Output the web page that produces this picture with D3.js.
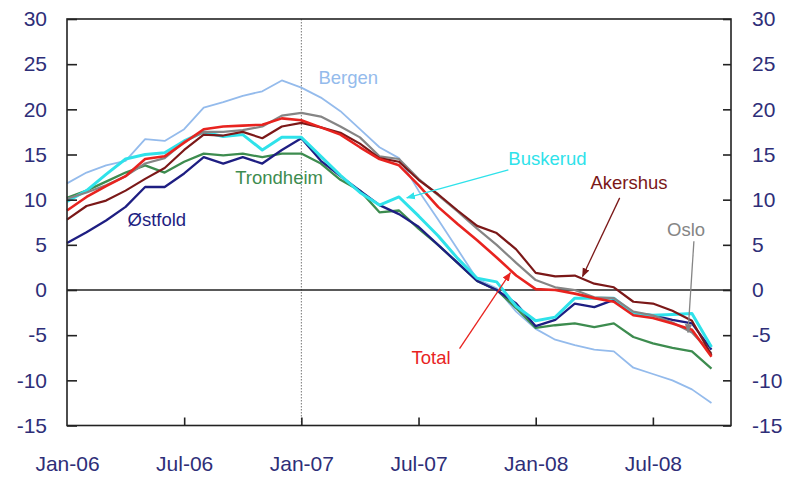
<!DOCTYPE html>
<html lang="en">
<head>
  <meta charset="UTF-8">
  <title>House prices by region</title>
  <script src="https://cdn.jsdelivr.net/npm/d3@7"></script>
  <style>
    body { margin: 0; background: #fff; }
    svg { font-family: "Liberation Sans", Arial, sans-serif; }
  </style>
</head>
<body>
<div id="chart"></div>
<script>
// month index 0 = Jan-06, one value per month up to Oct-08
const months = d3.range(34);
const tickMonths = [0, 6, 12, 18, 24, 30];
const tickLabels = ["Jan-06", "Jul-06", "Jan-07", "Jul-07", "Jan-08", "Jul-08"];
const yTicks = [-15, -10, -5, 0, 5, 10, 15, 20, 25, 30];

const bergen = [11.8, 13.0, 13.8, 14.3, 16.7, 16.5, 17.8, 20.2, 20.8, 21.5, 22.0, 23.2,
  22.4, 21.3, 19.8, 17.8, 15.8, 14.6, 11.0, 7.8, 4.5, 1.2, 0.2, -2.4,
  -4.3, -5.5, -6.1, -6.6, -6.8, -8.6, -9.3, -10.0, -11.0, -12.5];
const ostfold = [5.2, 6.4, 7.7, 9.2, 11.4, 11.4, 12.9, 14.7, 14.0, 14.7, 14.0, 15.5,
  16.8, 14.3, 12.6, 11.0, 9.4, 8.4, 7.0, 5.0, 3.0, 1.0, 0.0, -1.5,
  -4.0, -3.3, -1.5, -1.9, -1.1, -2.6, -2.8, -3.3, -3.7, -6.6];
const trondheim = [10.2, 11.0, 12.0, 13.0, 13.8, 13.0, 14.2, 15.1, 14.9, 15.1, 14.7, 15.1,
  15.1, 14.0, 12.2, 11.0, 8.6, 8.8, 6.8, 5.0, 3.0, 1.0, 0.0, -2.0,
  -4.2, -3.9, -3.7, -4.1, -3.7, -5.2, -5.9, -6.4, -6.8, -8.7];
const buskerud = [9.8, 11.0, 12.8, 14.5, 15.0, 15.2, 16.5, 17.5, 17.0, 17.2, 15.5, 16.9,
  16.9, 14.8, 12.7, 10.8, 9.4, 10.3, 8.2, 6.0, 3.5, 1.3, 0.9, -1.8,
  -3.4, -3.0, -0.9, -0.9, -0.9, -2.6, -2.8, -2.7, -2.6, -6.3];
const akershus = [7.8, 9.3, 9.9, 11.0, 12.3, 13.5, 15.5, 17.2, 17.1, 17.5, 16.8, 18.1,
  18.5, 18.0, 17.4, 16.2, 14.6, 14.2, 12.2, 10.6, 8.8, 7.1, 6.3, 4.5,
  1.9, 1.5, 1.6, 0.7, 0.3, -1.3, -1.5, -2.3, -3.4, -7.2];
const oslo = [10.1, 10.8, 11.6, 12.6, 14.0, 14.6, 16.4, 17.5, 17.5, 17.7, 18.1, 19.3,
  19.6, 19.2, 18.1, 16.9, 14.8, 14.5, 12.3, 10.5, 8.7, 6.8, 5.0, 3.0,
  1.1, 0.3, 0.0, -0.8, -0.9, -2.4, -2.8, -3.6, -4.7, -7.0];
const total = [8.8, 10.3, 11.5, 12.6, 14.5, 14.8, 16.3, 17.8, 18.1, 18.2, 18.3, 19.0,
  18.8, 18.0, 17.2, 15.8, 14.5, 13.8, 11.6, 9.2, 7.3, 5.5, 3.6, 1.6,
  0.1, 0.0, -0.4, -0.9, -1.3, -2.8, -3.1, -3.7, -4.4, -7.4];

const series = [
  { name: "Bergen", values: bergen, color: "#94bbec", width: 1.8 },
  { name: "Trondheim", values: trondheim, color: "#3d8c4f", width: 2.3 },
  { name: "Østfold", values: ostfold, color: "#1e1e82", width: 2.3 },
  { name: "Buskerud", values: buskerud, color: "#2fe2ea", width: 3 },
  { name: "Oslo", values: oslo, color: "#858585", width: 2.2 },
  { name: "Akershus", values: akershus, color: "#7b1818", width: 2.2 },
  { name: "Total", values: total, color: "#e8231f", width: 2.6 }
];

// labels and arrows, in month / value units
const labels = [
  { text: "Bergen", m: 14.4, v: 23.5, color: "#94bbec" },
  { text: "Trondheim", m: 10.86, v: 12.4, color: "#3d8c4f" },
  { text: "Østfold", m: 4.6, v: 7.75, color: "#1e1e82" },
  { text: "Buskerud", m: 24.6, v: 14.5, color: "#2fe2ea" },
  { text: "Akershus", m: 28.78, v: 11.85, color: "#7b1818" },
  { text: "Oslo", m: 31.7, v: 6.64, color: "#858585" },
  { text: "Total", m: 18.64, v: -7.5, color: "#e8231f" }
];
const arrows = [
  { m1: 22.6, v1: 13.3, m2: 17.4, v2: 10.2, color: "#2fe2ea" },
  { m1: 28.3, v1: 10.2, m2: 26.4, v2: 1.5, color: "#7b1818" },
  { m1: 32.1, v1: 5.4, m2: 31.8, v2: -4.7, color: "#858585" },
  { m1: 20.1, v1: -6.5, m2: 22.7, v2: 1.9, color: "#e8231f" }
];

const W = 789, H = 479;
const plot = { left: 67, right: 731, top: 19, bottom: 425.5 };
const tickColor = "#2e2e78";

const x = d3.scaleLinear().domain([0, 34]).range([plot.left, plot.right]);
const y = d3.scaleLinear().domain([-15, 30]).range([plot.bottom, plot.top]);

const svg = d3.select("#chart").append("svg")
  .attr("width", W)
  .attr("height", H);

const defs = svg.append("defs");
arrows.forEach((a, i) => {
  defs.append("marker")
    .attr("id", "arrow" + i)
    .attr("viewBox", "0 0 10 10")
    .attr("refX", 9)
    .attr("refY", 5)
    .attr("markerWidth", 7)
    .attr("markerHeight", 7)
    .attr("orient", "auto")
    .append("path")
    .attr("d", "M0,1 L10,5 L0,9 z")
    .attr("fill", a.color);
});

// Jan-07 dotted marker line
svg.append("line")
  .attr("x1", x(12)).attr("x2", x(12))
  .attr("y1", plot.top).attr("y2", plot.bottom)
  .attr("stroke", "#777")
  .attr("stroke-width", 1)
  .attr("stroke-dasharray", "1.5,1.5");

// zero line
svg.append("line")
  .attr("x1", plot.left).attr("x2", plot.right)
  .attr("y1", y(0)).attr("y2", y(0))
  .attr("stroke", "#222")
  .attr("stroke-width", 1.6);

const line = d3.line()
  .x((d, i) => x(months[i]))
  .y(d => y(d));

svg.append("g")
  .selectAll("path")
  .data(series)
  .enter()
  .append("path")
  .attr("d", d => line(d.values))
  .attr("fill", "none")
  .attr("stroke", d => d.color)
  .attr("stroke-width", d => d.width)
  .attr("stroke-linejoin", "round");

// frame
svg.append("rect")
  .attr("x", plot.left).attr("y", plot.top)
  .attr("width", plot.right - plot.left).attr("height", plot.bottom - plot.top)
  .attr("fill", "none")
  .attr("stroke", "#222")
  .attr("stroke-width", 1.6);

function styleAxis (g) {
  g.select(".domain").remove();
  g.selectAll(".tick line").attr("stroke", "#222").attr("stroke-width", 1.6);
  g.selectAll(".tick text")
    .attr("fill", tickColor)
    .attr("font-size", 21)
    .attr("font-family", "Liberation Sans, Arial, sans-serif");
}

svg.append("g")
  .attr("transform", `translate(${plot.left},0)`)
  .call(d3.axisLeft(y).tickValues(yTicks).tickSize(-10).tickPadding(20).tickFormat(d => String(d)))
  .call(styleAxis);

svg.append("g")
  .attr("transform", `translate(${plot.right},0)`)
  .call(d3.axisRight(y).tickValues(yTicks).tickSize(-8).tickPadding(21).tickFormat(d => String(d)))
  .call(styleAxis);

svg.append("g")
  .attr("transform", `translate(0,${plot.bottom})`)
  .call(d3.axisBottom(x).tickValues(tickMonths).tickSize(-8).tickPadding(31)
    .tickFormat((d, i) => tickLabels[i]))
  .call(styleAxis)
  .call(g => g.selectAll(".tick").filter(d => d === 0).select("line").remove());

svg.append("g")
  .selectAll("line")
  .data(arrows)
  .enter()
  .append("line")
  .attr("x1", d => x(d.m1)).attr("y1", d => y(d.v1))
  .attr("x2", d => x(d.m2)).attr("y2", d => y(d.v2))
  .attr("stroke", d => d.color)
  .attr("stroke-width", 1.3)
  .attr("marker-end", (d, i) => `url(#arrow${i})`);

svg.append("g")
  .selectAll("text")
  .data(labels)
  .enter()
  .append("text")
  .attr("x", d => x(d.m))
  .attr("y", d => y(d.v))
  .attr("dy", "0.35em")
  .attr("text-anchor", "middle")
  .attr("fill", d => d.color)
  .attr("font-size", 18.5)
  .text(d => d.text);
</script>
</body>
</html>
